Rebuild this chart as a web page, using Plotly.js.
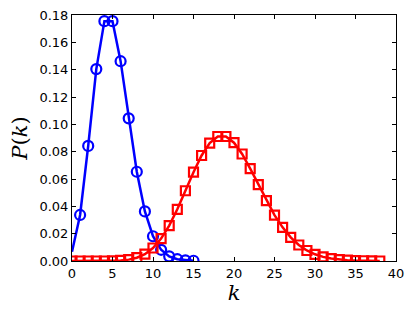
<!DOCTYPE html>
<html><head><meta charset="utf-8">
<script src="https://cdn.plot.ly/plotly-3.0.1.min.js"></script>
<style>html,body{margin:0;padding:0;background:#fff;}</style>
</head><body>
<div id="chart" style="width:415px;height:312px;"></div>
<script>
const kBlue = [0,1,2,3,4,5,6,7,8,9,10,11,12,13,14,15];
const pBlue = [0.0067,0.0337,0.0842,0.1404,0.1755,0.1755,0.1462,0.1044,0.0653,0.0363,0.0181,0.0082,0.0034,0.0013,0.0005,0.0002];
const kRed = [0,1,2,3,4,5,6,7,8,9,10,11,12,13,14,15,16,17,18,19,20,21,22,23,24,25,26,27,28,29,30,31,32,33,34,35,36,37,38];
const pRed = [0.0000,0.0000,0.0000,0.0000,0.0000,0.0001,0.0004,0.0010,0.0024,0.0050,0.0095,0.0164,0.0259,0.0378,0.0514,0.0650,0.0772,0.0863,0.0911,0.0911,0.0866,0.0783,0.0676,0.0559,0.0442,0.0336,0.0246,0.0173,0.0117,0.0077,0.0049,0.0030,0.0018,0.0010,0.0006,0.0003,0.0002,0.0001,0.0000];
const xTicks = [0,5,10,15,20,25,30,35,40];
const yTicks = [0,0.02,0.04,0.06,0.08,0.10,0.12,0.14,0.16,0.18];
const yTickText = ['0.00','0.02','0.04','0.06','0.08','0.10','0.12','0.14','0.16','0.18'];

const traces = [
  {x: kBlue, y: pBlue, type:'scatter', mode:'lines',
   line:{color:'#0000ff', width:2.5}},
  {x: kBlue.slice(1), y: pBlue.slice(1), type:'scatter', mode:'markers',
   marker:{symbol:'circle-open', size:10, color:'#0000ff', line:{width:2.2, color:'#0000ff'}}},
  {x: kRed, y: pRed, type:'scatter', mode:'lines+markers',
   line:{color:'#ff0000', width:2.5},
   marker:{symbol:'square-open', size:9, color:'#ff0000', line:{width:2.2, color:'#ff0000'}}}
];
const axCommon = {showline:true, linecolor:'#000', linewidth:1, mirror:'ticks', ticks:'inside', ticklen:4, tickcolor:'#000', showgrid:false, zeroline:false, tickfont:{family:'DejaVu Sans', size:13, color:'#000'}};
const layout = {
  width:415, height:312,
  margin:{l:72, r:19, t:15, b:51},
  paper_bgcolor:'#fff', plot_bgcolor:'#fff',
  showlegend:false,
  xaxis: Object.assign({}, axCommon, {range:[0,40], tickvals:xTicks, ticktext:xTicks.map(String),
     title:{text:'<i>k</i>', font:{family:'DejaVu Serif', size:21, color:'#000'}, standoff:4}}),
  yaxis: Object.assign({}, axCommon, {range:[0,0.18], tickvals:yTicks, ticktext:yTickText,
     title:{text:'<i>P</i>(<i>k</i>)', font:{family:'DejaVu Serif', size:21, color:'#000'}, standoff:6}})
};
Plotly.newPlot('chart', traces, layout, {displayModeBar:false, staticPlot:true});
</script>
</body></html>
